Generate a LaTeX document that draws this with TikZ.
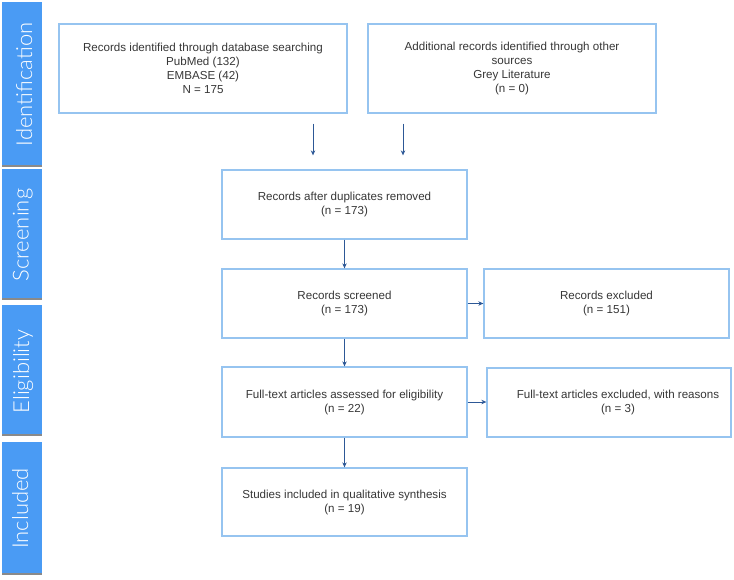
\documentclass[tikz,border=0pt]{standalone}
\usepackage{fontspec}
\setmainfont{Liberation Sans}
\IfFontExistsTF{Lato Light}{\newfontfamily\barfont{Lato Light}}{\newfontfamily\barfont{Liberation Sans}}
\usetikzlibrary{arrows.meta,shadows}
\definecolor{barblue}{RGB}{74,155,244}
\definecolor{boxblue}{RGB}{150,196,240}
\definecolor{arrblue}{RGB}{45,88,150}
\definecolor{txtgrey}{RGB}{55,55,55}
\definecolor{shadowgrey}{RGB}{125,125,125}
\begin{document}
\begin{tikzpicture}[x=1pt,y=-1pt,
  bar/.style={fill=barblue, draw=none, minimum width=39.5pt, inner sep=0pt,
    drop shadow={shadow xshift=0pt, shadow yshift=-1.8pt, fill=shadowgrey, opacity=0.9}},
  bartext/.style={rotate=90, anchor=base, text=white, inner sep=0pt, font=\barfont\fontsize{22}{26}\selectfont},
  box/.style={draw=boxblue, line width=1.3pt, fill=white, align=center, inner sep=0pt,
    text=txtgrey, font=\fontsize{11.6}{14}\selectfont},
  arr/.style={draw=arrblue, line width=0.9pt, -{Stealth[length=5pt,width=4.5pt]}}]
\useasboundingbox (0,0) rectangle (734,579);

% phase bars
\node[bar, minimum height=163pt] (barI) at (21.75,83.5) {};
\node[bar, minimum height=129pt] (barS) at (21.75,233.5) {};
\node[bar, minimum height=129pt] (barE) at (21.75,369.5) {};
\node[bar, minimum height=131pt] (barN) at (21.75,507.5) {};
\node[bartext] (tI) at (32,84.5) {Identification};
\node[bartext] (tS) at (28.5,235) {Screening};
\node[bartext] (tE) at (29,371.5) {Eligibility};
\node[bartext] (tN) at (28,508.5) {Included};

% boxes
\node[box, minimum width=288pt, minimum height=89pt] (b1) at (203,68.5)
  {Records identified through database searching\\PubMed (132)\\EMBASE (42)\\N = 175};
\node[box, minimum width=288pt, minimum height=89pt] (b2) at (512,68.5)
  {Additional records identified through other\\sources\\Grey Literature\\(n = 0)};
\node[box, minimum width=245pt, minimum height=69pt] (b3) at (344.5,204.5)
  {Records after duplicates removed\\(n = 173)};
\node[box, minimum width=245pt, minimum height=69pt] (b4) at (344.5,303.5)
  {Records screened\\(n = 173)};
\node[box, minimum width=245pt, minimum height=69pt] (b5) at (606.5,303.5)
  {Records excluded\\(n = 151)};
\node[box, minimum width=245pt, minimum height=70pt] (b6) at (344.5,402)
  {Full-text articles assessed for eligibility\\(n = 22)};
\node[box, minimum width=244pt, minimum height=69pt] (b7) at (609,402.5)
  {\hspace*{18pt}\begin{tabular}{@{}c@{}}Full-text articles excluded, with reasons\\(n = 3)\end{tabular}};
\node[box, minimum width=245pt, minimum height=68pt] (b8) at (344.5,502)
  {Studies included in qualitative synthesis\\(n = 19)};

% connectors
\draw[arr] ([xshift=110pt,yshift=-10pt]b1.south) -- ([xshift=110pt,yshift=14pt]b1.south |- b3.north);
\draw[arr] ([xshift=-109pt,yshift=-10pt]b2.south) -- ([xshift=-109pt,yshift=14pt]b2.south |- b3.north);
\draw[arr] (b3) -- (b4);
\draw[arr] (b4) -- (b5);
\draw[arr] (b4) -- (b6);
\draw[arr] (b6.east) -- (b6.east -| b7.west);
\draw[arr] (b6) -- (b8);
\end{tikzpicture}
\end{document}
